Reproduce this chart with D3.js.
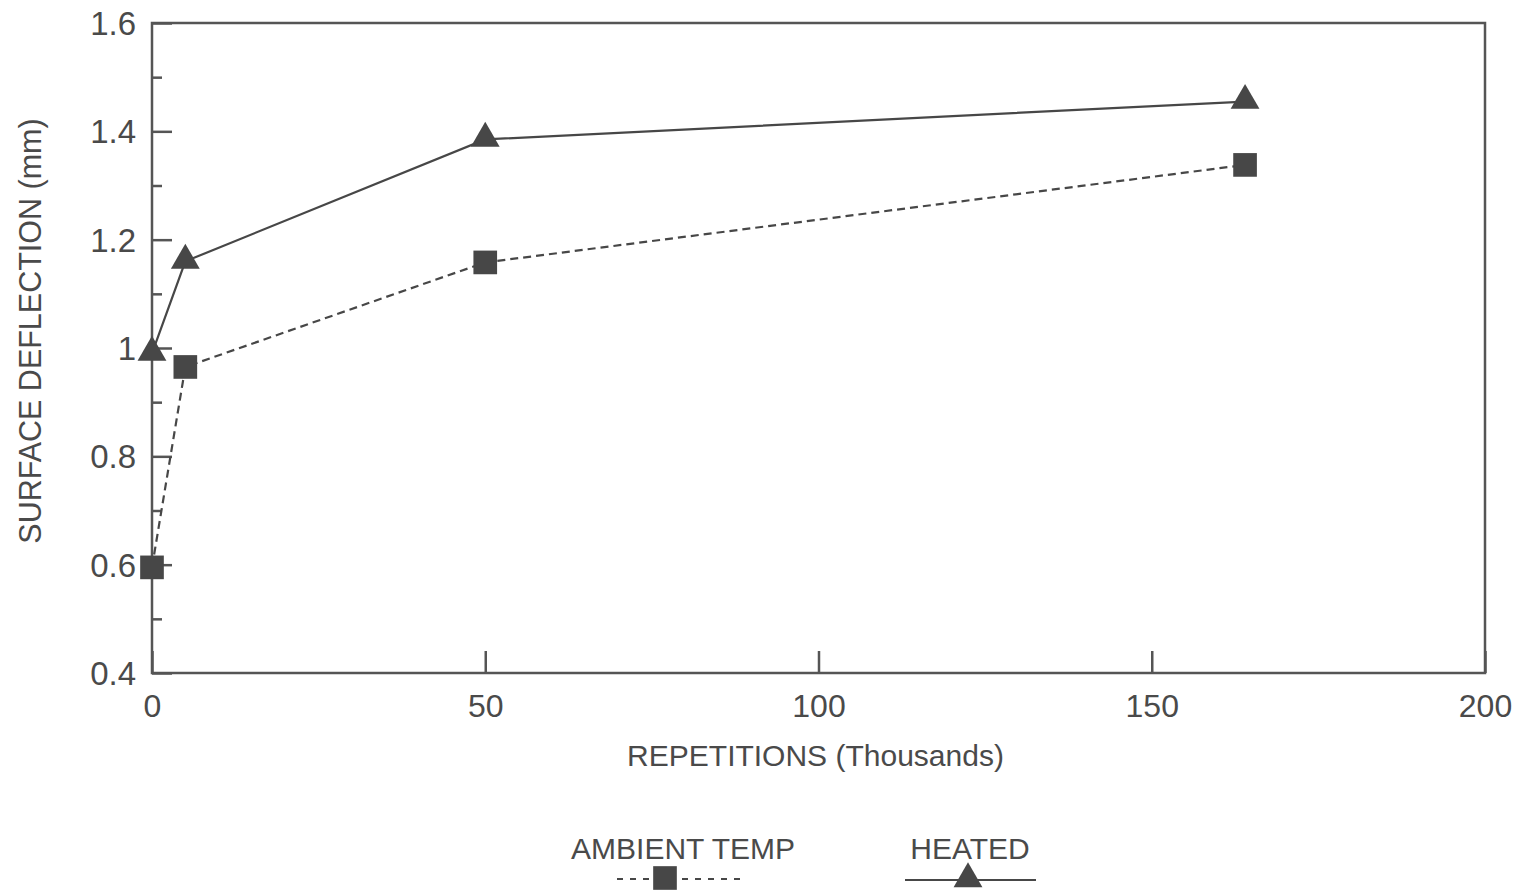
<!DOCTYPE html>
<html>
<head>
<meta charset="utf-8">
<script src="https://cdn.jsdelivr.net/npm/d3@7"></script>
<style>
  body { margin: 0; background: #fff; }
  text { font-family: "Liberation Sans", Arial, sans-serif; fill: #4a4a4a; }
</style>
</head>
<body>
<svg id="chart" width="1515" height="892"></svg>
<script>
// values
var xTicks = [0, 50, 100, 150, 200];
var yTicks = [0.4, 0.6, 0.8, 1.0, 1.2, 1.4, 1.6];
var yMinorTicks = [0.5, 0.7, 0.9, 1.1, 1.3, 1.5];

var ambientX = [0, 5, 50, 164];
var ambientY = [0.595, 0.965, 1.158, 1.338];
var heatedX = [0, 5, 50, 164];
var heatedY = [0.99, 1.16, 1.385, 1.455];

var legendNames = ["AMBIENT TEMP", "HEATED"];

var ink = "#474747";
var margin = {top: 23, right: 30, bottom: 219, left: 152},
	width = 1515 - margin.left - margin.right,
	height = 892 - margin.top - margin.bottom;

var svg = d3.select("#chart");
var g = svg.append("g")
	.attr("transform", "translate(" + margin.left + "," + margin.top + ")");

var x = d3.scaleLinear().domain([0, 200]).range([0, width]);
var y = d3.scaleLinear().domain([0.4, 1.6]).range([height, 0]);

// frame
g.append("rect")
	.attr("width", width).attr("height", height)
	.attr("fill", "none").attr("stroke", "#555").attr("stroke-width", 2.5);

// y axis, ticks pointing inward
var yAxis = g.append("g")
	.call(d3.axisRight(y).tickValues(yTicks).tickSize(20)
		.tickFormat(function(d){ return d3.format("")(+d.toFixed(1)); }));
yAxis.select(".domain").remove();
yAxis.selectAll("line").attr("stroke", "#555").attr("stroke-width", 2.5);
yAxis.selectAll("text")
	.attr("x", -16).attr("text-anchor", "end")
	.style("font-size", "33px").attr("fill", "#4a4a4a").attr("dy", "0.35em");

var yMinor = g.append("g")
	.call(d3.axisRight(y).tickValues(yMinorTicks).tickSize(10).tickFormat(""));
yMinor.select(".domain").remove();
yMinor.selectAll("line").attr("stroke", "#555").attr("stroke-width", 2.5);

// x axis, ticks pointing up
var xAxis = g.append("g")
	.attr("transform", "translate(0," + height + ")")
	.call(d3.axisTop(x).tickValues(xTicks).tickSize(22));
xAxis.select(".domain").remove();
xAxis.selectAll("line").attr("stroke", "#555").attr("stroke-width", 2.5);
xAxis.selectAll("text")
	.attr("y", 33).attr("dy", "0.35em")
	.style("font-size", "32px").attr("fill", "#4a4a4a");

// axis titles
g.append("text")
	.attr("x", width / 2 - 3).attr("y", height + 93)
	.attr("text-anchor", "middle").style("font-size", "30px")
	.text("REPETITIONS (Thousands)");

g.append("text")
	.attr("transform", "translate(-122," + (height / 2 - 17) + ") rotate(-90)")
	.attr("text-anchor", "middle").attr("dy", "0.35em").style("font-size", "30.5px")
	.text("SURFACE DEFLECTION (mm)");

var line = d3.line().x(function(d){ return x(d[0]); }).y(function(d){ return y(d[1]); });
var ambient = d3.zip(ambientX, ambientY);
var heated = d3.zip(heatedX, heatedY);

g.append("path").datum(ambient).attr("d", line)
	.attr("fill", "none").attr("stroke", ink).attr("stroke-width", 2.2)
	.attr("stroke-dasharray", "8,5");
g.append("path").datum(heated).attr("d", line)
	.attr("fill", "none").attr("stroke", ink).attr("stroke-width", 2.2);

var square = d3.symbol().type(d3.symbolSquare).size(560);
var tri = d3.symbol().type(d3.symbolTriangle).size(360);

g.selectAll(".sq").data(ambient).enter().append("path")
	.attr("class", "sq").attr("d", square)
	.attr("transform", function(d){ return "translate(" + x(d[0]) + "," + y(d[1]) + ")"; })
	.attr("fill", ink);
g.selectAll(".tri").data(heated).enter().append("path")
	.attr("class", "tri").attr("d", tri)
	.attr("transform", function(d){ return "translate(" + x(d[0]) + "," + (y(d[1]) - 1) + ")"; })
	.attr("fill", ink);

// legend
var leg = svg.append("g");
var l1 = leg.append("g").attr("transform", "translate(683,0)");
l1.append("text").attr("y", 859).attr("text-anchor", "middle").style("font-size", "30px").text(legendNames[0]);
l1.append("line").attr("x1", -66).attr("x2", 64).attr("y1", 879).attr("y2", 879)
	.attr("stroke", ink).attr("stroke-width", 2).attr("stroke-dasharray", "6,7");
l1.append("path").attr("d", square).attr("transform", "translate(-18,878)").attr("fill", ink);

var l2 = leg.append("g").attr("transform", "translate(970,0)");
l2.append("text").attr("y", 859).attr("text-anchor", "middle").style("font-size", "30px").text(legendNames[1]);
l2.append("line").attr("x1", -65).attr("x2", 66).attr("y1", 880).attr("y2", 880)
	.attr("stroke", ink).attr("stroke-width", 2);
l2.append("path").attr("d", tri).attr("transform", "translate(-2,879)").attr("fill", ink);
</script>
</body>
</html>
